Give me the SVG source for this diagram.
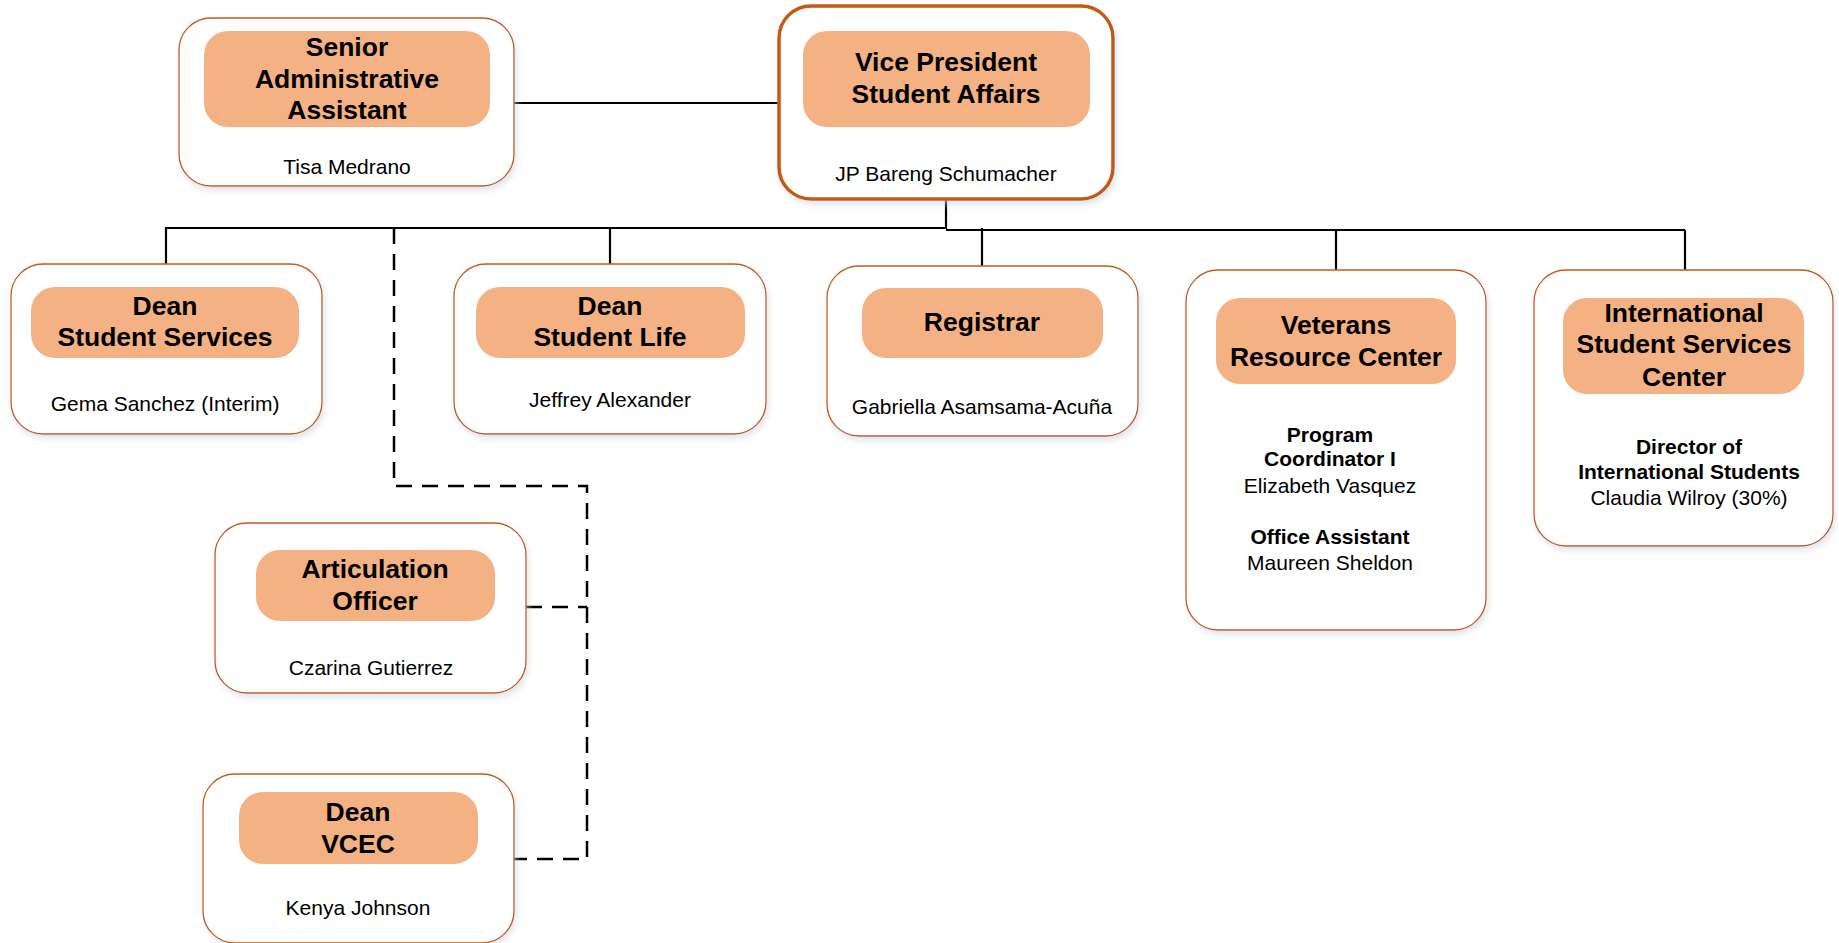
<svg xmlns="http://www.w3.org/2000/svg" width="1839" height="943" viewBox="0 0 1839 943">
<defs>
<filter id="sh" x="-10%" y="-10%" width="120%" height="125%">
<feDropShadow dx="2" dy="4" stdDeviation="3" flood-color="#c9d3e6" flood-opacity="0.6"/>
</filter>
<style>
.box{fill:#ffffff;stroke:#C55A11;stroke-width:1.3;filter:url(#sh)}
.vp{fill:#ffffff;stroke:#C55A11;stroke-width:3.5;filter:url(#sh)}
.hdr{fill:#F4B183;stroke:none}
.t{font-family:"Liberation Sans",Arial,sans-serif;font-weight:bold;font-size:26.5px;fill:#000;text-anchor:middle}
.n{font-family:"Liberation Sans",Arial,sans-serif;font-size:21px;fill:#000;text-anchor:middle}
.b{font-family:"Liberation Sans",Arial,sans-serif;font-weight:bold;font-size:21px;fill:#000;text-anchor:middle}
.ln{fill:none;stroke:#000;stroke-width:2.2}
.dl{fill:none;stroke:#000;stroke-width:2.5;stroke-dasharray:16 10}
</style>
</defs>
<rect width="1839" height="943" fill="#ffffff"/>
<g id="connectors">
<line class="ln" x1="514" y1="103" x2="779" y2="103"/>
<polyline class="ln" points="946,199 946,229"/>
<polyline class="ln" points="166,264 166,228 946,228"/>
<line class="ln" x1="946" y1="230" x2="1685" y2="230"/>
<line class="ln" x1="610" y1="228" x2="610" y2="264"/>
<line class="ln" x1="982" y1="228" x2="982" y2="266"/>
<line class="ln" x1="1336" y1="230" x2="1336" y2="270"/>
<line class="ln" x1="1685" y1="230" x2="1685" y2="270"/>
<polyline class="dl" points="394,228 394,486 587,486 587,859 514,859"/>
<line class="dl" x1="526" y1="607" x2="587" y2="607"/>
</g>
<g id="senior-admin">
<rect class="box" x="179" y="18" width="335" height="168" rx="32"/>
<rect class="hdr" x="204" y="31" width="286" height="96" rx="24"/>
<text class="t" x="347" y="56">Senior</text>
<text class="t" x="347" y="88">Administrative</text>
<text class="t" x="347" y="119">Assistant</text>
<text class="n" x="347" y="174">Tisa Medrano</text>
</g>
<g id="vp">
<rect class="vp" x="779" y="6" width="334" height="193" rx="32"/>
<rect class="hdr" x="803" y="31" width="287" height="96" rx="24"/>
<text class="t" x="946" y="71">Vice President</text>
<text class="t" x="946" y="103">Student Affairs</text>
<text class="n" x="946" y="181">JP Bareng Schumacher</text>
</g>
<g id="dean-ss">
<rect class="box" x="11" y="264" width="311" height="170" rx="32"/>
<rect class="hdr" x="31" y="287" width="268" height="71" rx="24"/>
<text class="t" x="165" y="315">Dean</text>
<text class="t" x="165" y="346">Student Services</text>
<text class="n" x="165" y="411">Gema Sanchez (Interim)</text>
</g>
<g id="dean-sl">
<rect class="box" x="454" y="264" width="312" height="170" rx="32"/>
<rect class="hdr" x="476" y="287" width="269" height="71" rx="24"/>
<text class="t" x="610" y="315">Dean</text>
<text class="t" x="610" y="346">Student Life</text>
<text class="n" x="610" y="407">Jeffrey Alexander</text>
</g>
<g id="registrar">
<rect class="box" x="827" y="266" width="311" height="170" rx="32"/>
<rect class="hdr" x="862" y="288" width="241" height="70" rx="24"/>
<text class="t" x="982" y="331">Registrar</text>
<text class="n" x="982" y="414">Gabriella Asamsama-Acuña</text>
</g>
<g id="veterans">
<rect class="box" x="1186" y="270" width="300" height="360" rx="32"/>
<rect class="hdr" x="1216" y="298" width="240" height="86" rx="24"/>
<text class="t" x="1336" y="334">Veterans</text>
<text class="t" x="1336" y="366">Resource Center</text>
<text class="b" x="1330" y="442">Program</text>
<text class="b" x="1330" y="466">Coordinator I</text>
<text class="n" x="1330" y="493">Elizabeth Vasquez</text>
<text class="b" x="1330" y="544">Office Assistant</text>
<text class="n" x="1330" y="570">Maureen Sheldon</text>
</g>
<g id="issc">
<rect class="box" x="1534" y="270" width="299" height="276" rx="32"/>
<rect class="hdr" x="1563" y="298" width="241" height="96" rx="24"/>
<text class="t" x="1684" y="322">International</text>
<text class="t" x="1684" y="353">Student Services</text>
<text class="t" x="1684" y="386">Center</text>
<text class="b" x="1689" y="454">Director of</text>
<text class="b" x="1689" y="479">International Students</text>
<text class="n" x="1689" y="505">Claudia Wilroy (30%)</text>
</g>
<g id="articulation">
<rect class="box" x="215" y="523" width="311" height="170" rx="32"/>
<rect class="hdr" x="256" y="550" width="239" height="71" rx="24"/>
<text class="t" x="375" y="578">Articulation</text>
<text class="t" x="375" y="610">Officer</text>
<text class="n" x="371" y="675">Czarina Gutierrez</text>
</g>
<g id="dean-vcec">
<rect class="box" x="203" y="774" width="311" height="169" rx="32"/>
<rect class="hdr" x="239" y="792" width="239" height="72" rx="24"/>
<text class="t" x="358" y="821">Dean</text>
<text class="t" x="358" y="853">VCEC</text>
<text class="n" x="358" y="915">Kenya Johnson</text>
</g>
</svg>
